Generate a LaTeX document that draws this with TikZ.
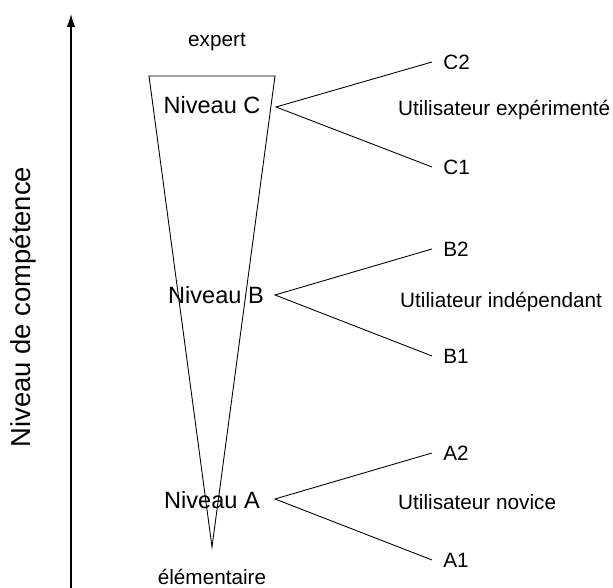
\documentclass[tikz,border=0pt]{standalone}
\usepackage{fontspec}
\setmainfont{Liberation Sans}
\usetikzlibrary{arrows.meta}
\begin{document}
\begin{tikzpicture}[
  niveau/.style={font=\fontsize{13.4}{16}\selectfont},
  lbl/.style={font=\fontsize{11.8}{14}\selectfont},
  sub/.style={lbl, anchor=west, inner xsep=0.22cm},
  trait/.style={draw, line width=0.5pt}
]
\useasboundingbox (0,0) rectangle (12.26,11.76);
% axe vertical
\coordinate (bas) at (1.42,0);
\coordinate (haut) at (1.42,11.48);
\draw[line width=0.6pt, -{Latex[length=0.26cm,width=0.17cm]}] (bas) -- (haut);
\node[rotate=90, font=\fontsize{15.6}{18}\selectfont] (axe) at (0.46,5.62) {Niveau de compétence};
% entonnoir
\draw[trait] (2.98,10.24) -- (5.50,10.24) -- (4.24,0.82) -- cycle;
\node[lbl] (expert) at (4.34,10.92) {expert};
\node[lbl] (elem) at (4.24,0.22) {élémentaire};
% niveau C
\node[niveau] (NC) at (4.24,9.66) {Niveau C};
\coordinate (fC) at (5.52,9.62);
\node[sub] (C2) at (8.64,10.52) {C2};
\node[sub] (C1) at (8.64,8.42) {C1};
\draw[trait] (C2.west) -- (fC) -- (C1.west);
\node[lbl, anchor=west] (uC) at (7.84,9.56) {Utilisateur expérimenté};
% niveau B
\node[niveau] (NB) at (4.32,5.86) {Niveau B};
\coordinate (fB) at (5.50,5.86);
\node[sub] (B2) at (8.64,6.78) {B2};
\node[sub] (B1) at (8.64,4.64) {B1};
\draw[trait] (B2.west) -- (fB) -- (B1.west);
\node[lbl, anchor=west] (uB) at (7.88,5.72) {Utiliateur indépendant};
% niveau A
\node[niveau] (NA) at (4.24,1.76) {Niveau A};
\coordinate (fA) at (5.50,1.78);
\node[sub] (A2) at (8.64,2.70) {A2};
\node[sub] (A1) at (8.64,0.56) {A1};
\draw[trait] (A2.west) -- (fA) -- (A1.west);
\node[lbl, anchor=west] (uA) at (7.84,1.72) {Utilisateur novice};
\end{tikzpicture}
\end{document}
